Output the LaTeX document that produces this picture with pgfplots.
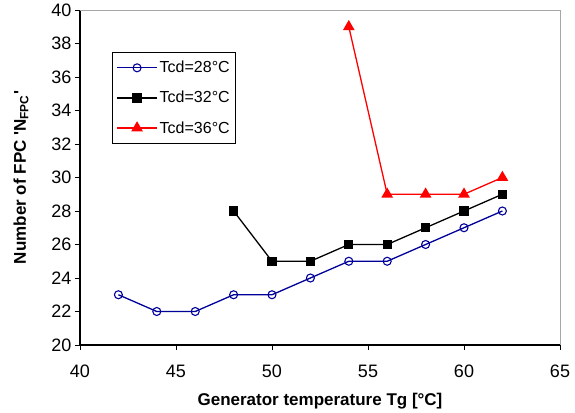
\documentclass[border=0pt]{standalone}
\usepackage{fontspec}
\setmainfont{Liberation Sans}
\usepackage{pgfplots}
\pgfplotsset{compat=1.18}
\definecolor{tblue}{HTML}{000099}
\definecolor{tred}{HTML}{FF0000}

\begin{document}
\begin{tikzpicture}
\path[use as bounding box] (0,0) rectangle (575pt,412pt);
\begin{axis}[
    at={(80pt,67pt)}, anchor=south west,
    scale only axis,
    width=480pt, height=335pt,
    xmin=40, xmax=65, ymin=20, ymax=40,
    xtick={40,45,...,65}, ytick={20,22,...,40},
    axis lines*=left,
    axis line style={line width=1.4pt, black},
    tick align=outside,
    major tick length=5pt,
    tick style={black, line width=0.8pt},
    /pgf/number format/assume math mode=true,
    ticklabel style={font=\fontsize{18}{21}\selectfont},
    xticklabel style={anchor=base, yshift=-27pt},
    xlabel={\textbf{Generator temperature Tg [°C]}},
    ylabel={\textbf{Number of FPC \textquotesingle N\textsubscript{FPC}\textquotesingle}},
    label style={font=\fontsize{17}{20}\selectfont},
    xlabel style={at={(axis description cs:0.5,0)}, anchor=base, yshift=-60pt},
    ylabel style={at={(axis description cs:0,0.5)}, anchor=center, yshift=59pt},
    clip=false,
    legend cell align=left,
    legend style={at={(0.0667,0.875)}, anchor=north west, draw=black, line width=0.8pt,
        font=\fontsize{16}{18}\selectfont, inner xsep=4pt, inner ysep=7pt,
        row sep=13pt, /tikz/every even column/.append style={column sep=2pt}},
    legend image code/.code={\draw[#1] (0pt,0pt) -- (40pt,0pt);
        \draw[#1, mark repeat=2, mark phase=2] plot coordinates {(0pt,0pt) (20pt,0pt) (40pt,0pt)};},
]
\draw[gray!70, line width=0.8pt] (rel axis cs:0,1) -- (rel axis cs:1,1) -- (rel axis cs:1,0);

\addplot[tblue, line width=1.3pt, mark=o, mark size=4pt,
    mark options={fill=white, line width=1.1pt}]
    coordinates {(42,23) (44,22) (46,22) (48,23) (50,23) (52,24) (54,25) (56,25) (58,26) (60,27) (62,28)};
\addlegendentry{Tcd=28°C}
\addplot[black, line width=1.3pt, mark=square*, mark size=4pt, mark options={solid}]
    coordinates {(48,28) (50,25) (52,25) (54,26) (56,26) (58,27) (60,28) (62,29)};
\addlegendentry{Tcd=32°C}
\addplot[tred, line width=1.3pt, mark=triangle*, mark size=5.5pt, mark options={solid}]
    coordinates {(54,39) (56,29) (58,29) (60,29) (62,30)};
\addlegendentry{Tcd=36°C}
\end{axis}
\end{tikzpicture}
\end{document}
